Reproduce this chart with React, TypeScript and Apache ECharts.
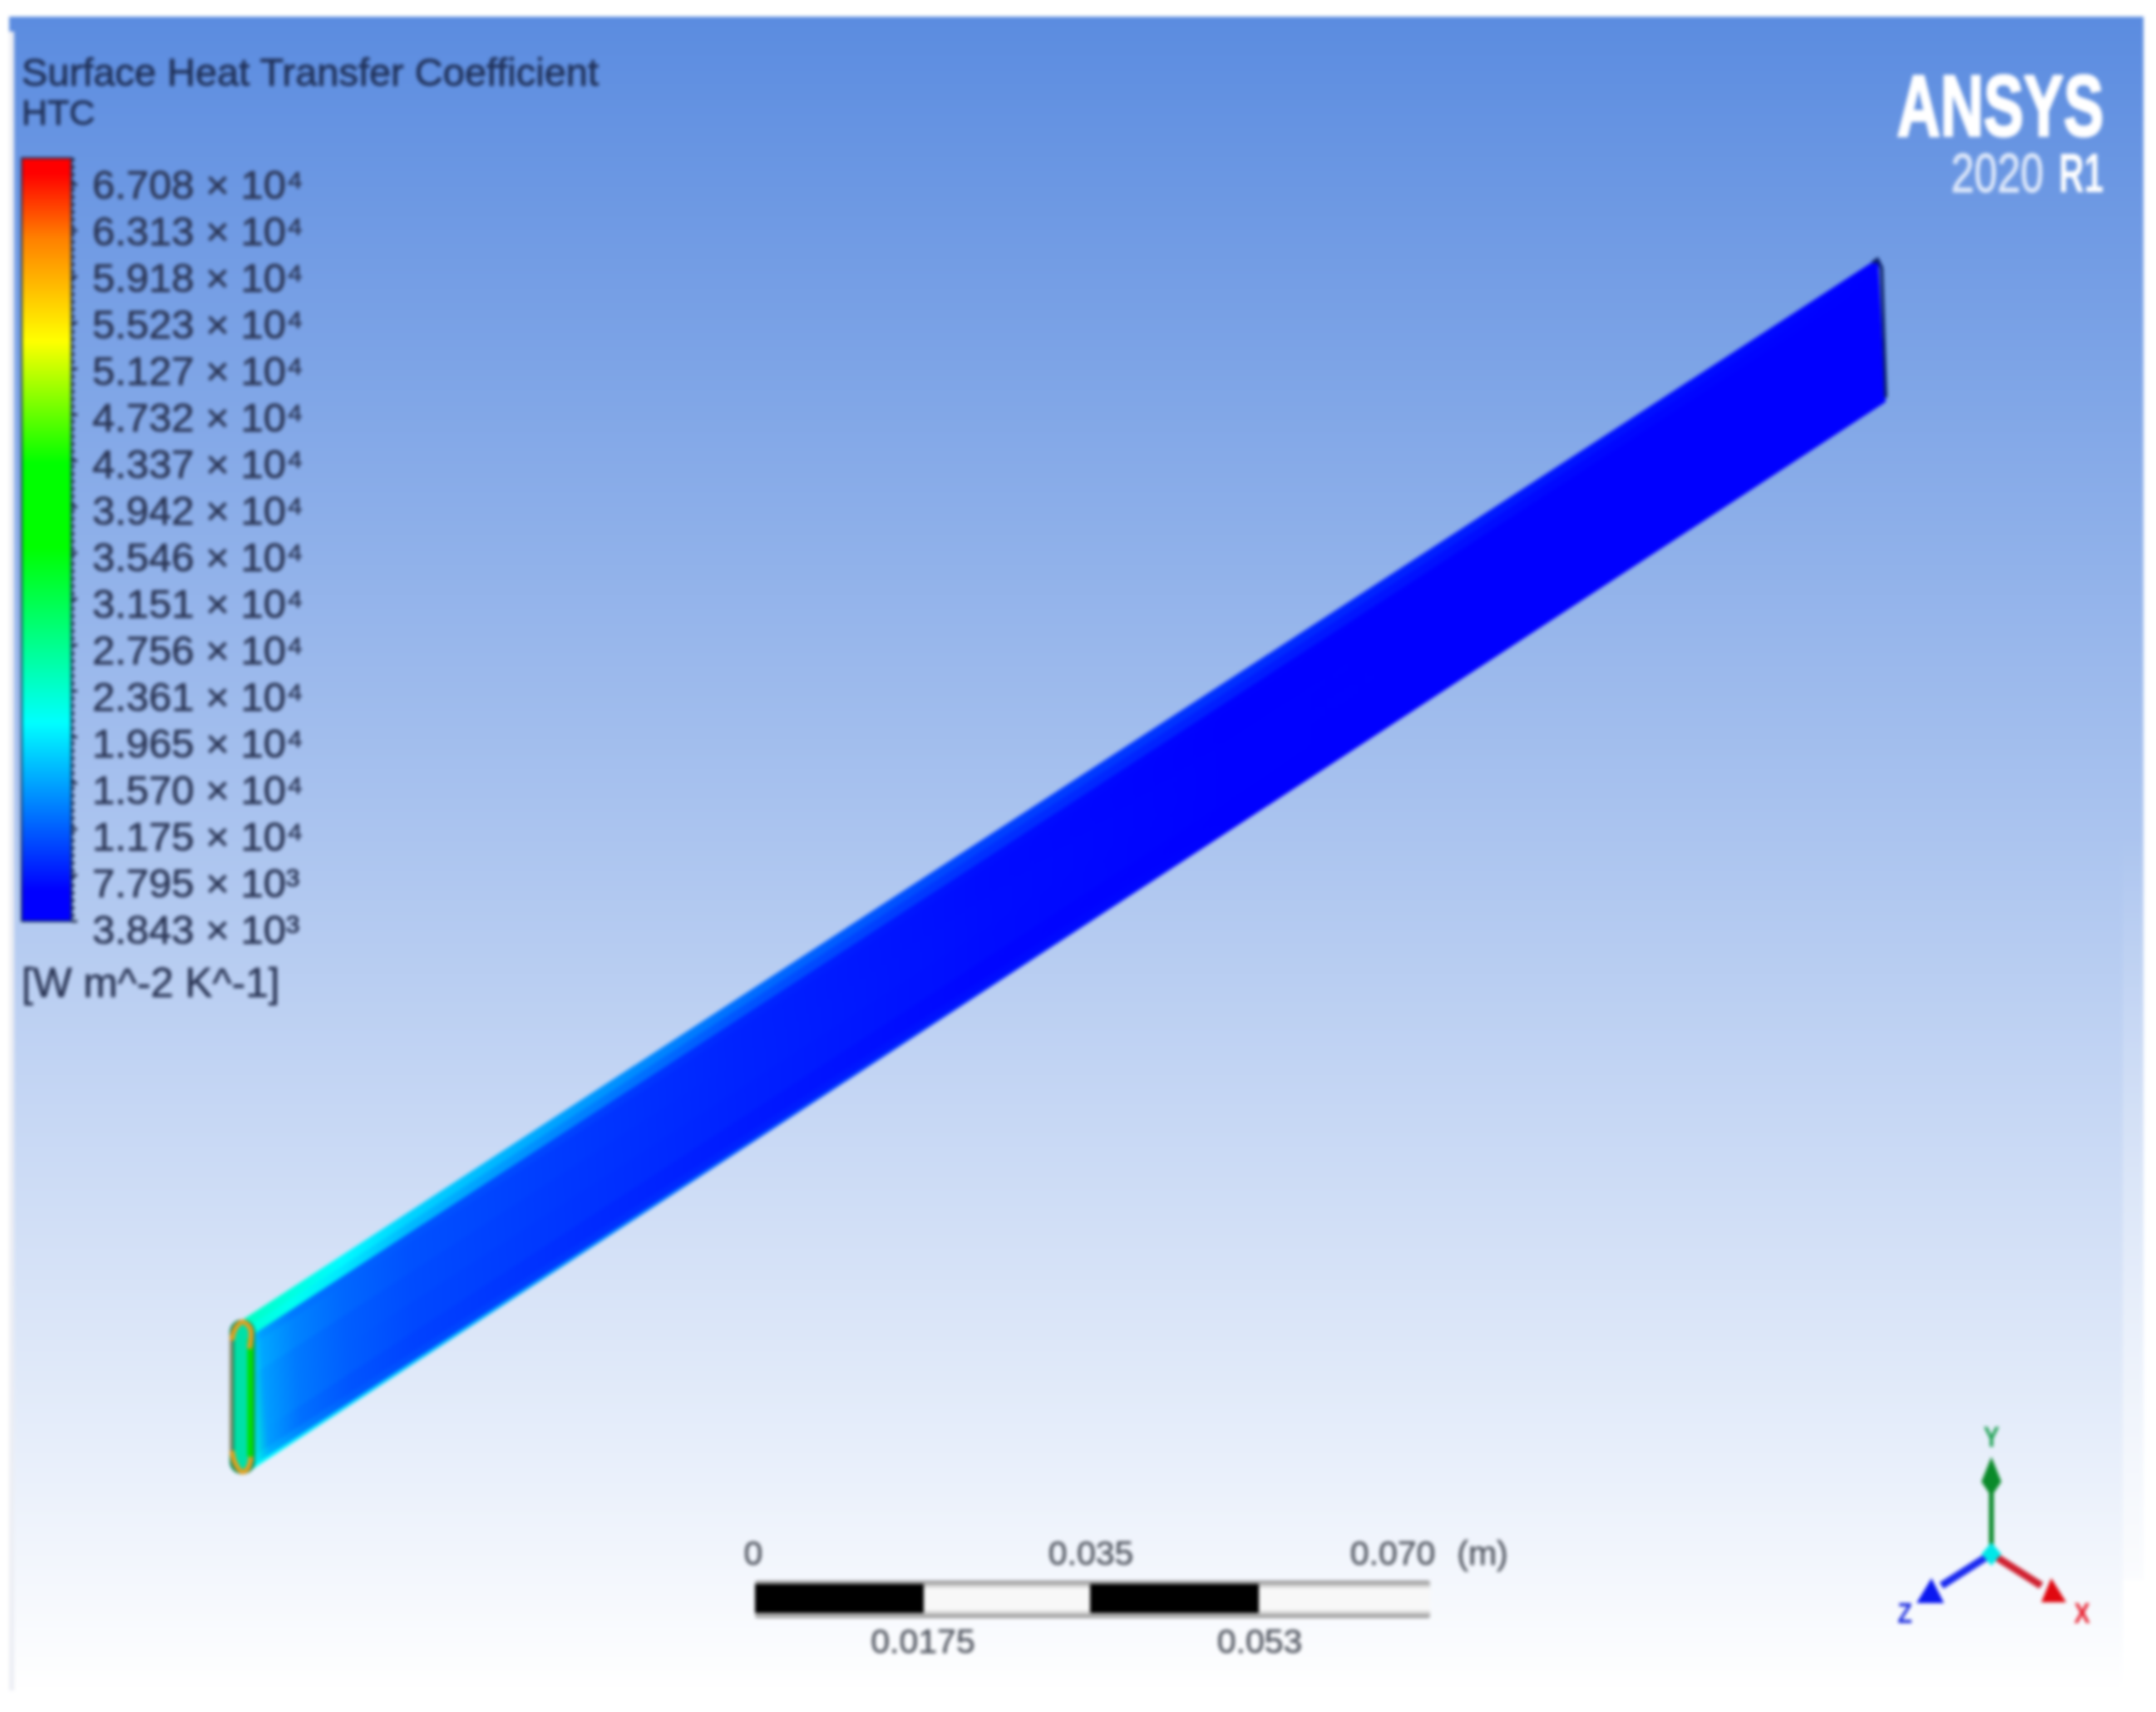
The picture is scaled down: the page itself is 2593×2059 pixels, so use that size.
import React, { useEffect, useRef } from "react";
import * as echarts from "echarts";

const titleLines = ["Surface Heat Transfer Coefficient", "HTC"];
const unitLabel = "[W m^-2 K^-1]";
const legendValues = ["6.708", "6.313", "5.918", "5.523", "5.127", "4.732", "4.337", "3.942", "3.546", "3.151", "2.756", "2.361", "1.965", "1.570", "1.175", "7.795", "3.843"];
const legendExponents = ["⁴", "⁴", "⁴", "⁴", "⁴", "⁴", "⁴", "⁴", "⁴", "⁴", "⁴", "⁴", "⁴", "⁴", "⁴", "³", "³"];
const htcMin = 3843;
const htcMax = 67080;

// colour ramp of the contour legend: position on the ramp (0 = bottom), colour
const rampPositions = [0, 0.04, 0.26, 0.49, 0.6, 0.76, 0.895, 0.98, 1];
const rampColors = ["#0000ff", "#0000ff", "#00ffff", "#00ff00", "#00ff00", "#ffff00", "#ff8000", "#ff0000", "#ff0000"];

const stations = [0, 0.01, 0.03, 0.06, 0.1, 0.2, 0.3, 0.45, 0.6, 0.8, 1];
const rowEdges = [0, 0.07, 0.14, 0.2, 0.4, 0.6, 0.8, 0.93, 0.985, 1];
const rowTopBandOuter = [24000, 23000, 22000, 20000, 18000, 15000, 12500, 10000, 9000, 7500, 5500];
const rowTopBandInner = [22000, 22000, 21000, 19000, 16500, 13500, 11000, 9000, 8000, 6800, 5000];
const rowFold = [21000, 15000, 13000, 12000, 11000, 10000, 8500, 7200, 6400, 5500, 4500];
const rowSideUpper = [23000, 15500, 13500, 12000, 10800, 9500, 8300, 7000, 6200, 5500, 4000];
const rowSideMiddle = [23000, 15000, 13000, 11500, 10500, 9300, 8300, 7100, 6400, 5500, 4000];
const rowSideLower = [23000, 15000, 13000, 11500, 10300, 9200, 8200, 7000, 6400, 5500, 4000];
const rowSideBottom = [23000, 15000, 12500, 11000, 10000, 8800, 7800, 6700, 6000, 5000, 4000];
const rowNearEdge = [22000, 16000, 13500, 11500, 10500, 9200, 8200, 7000, 6000, 5000, 4000];
const rowLowerEdge = [21000, 20000, 19000, 18000, 17000, 14000, 11000, 8000, 6000, 5000, 4000];
const stripRows = [rowTopBandOuter, rowTopBandInner, rowFold, rowSideUpper, rowSideMiddle, rowSideLower, rowSideBottom, rowNearEdge, rowLowerEdge];

const scaleTop = [{ t: "0", x: 906 }, { t: "0.035", x: 1312 }, { t: "0.070", x: 1675 }, { t: "(m)", x: 1783 }];
const scaleBottom = [{ t: "0.0175", x: 1110 }, { t: "0.053", x: 1515 }];

const W = 2593;
const H = 2059;
const FONT = "'Liberation Sans', Arial, sans-serif";

function hexToRgb(h: string) {
  return [parseInt(h.slice(1, 3), 16), parseInt(h.slice(3, 5), 16), parseInt(h.slice(5, 7), 16)];
}
function colorFor(v: number) {
  const f = Math.min(1, Math.max(0, (v - htcMin) / (htcMax - htcMin)));
  for (let i = 1; i < rampPositions.length; i++) {
    if (f <= rampPositions[i]) {
      const k = (f - rampPositions[i - 1]) / (rampPositions[i] - rampPositions[i - 1] || 1);
      const a = hexToRgb(rampColors[i - 1]);
      const b = hexToRgb(rampColors[i]);
      return `rgb(${a.map((c, j) => Math.round(c + (b[j] - c) * k)).join(",")})`;
    }
  }
  return rampColors[rampColors.length - 1];
}

// strip placement on the canvas
const pTop0 = [292, 1588], pTop1 = [2258, 312], pBot0 = [304, 1766], pBot1 = [2267, 483];
function stripPoint(s: number, w: number) {
  const tx = pTop0[0] + (pTop1[0] - pTop0[0]) * s;
  const ty = pTop0[1] + (pTop1[1] - pTop0[1]) * s;
  const bx = pBot0[0] + (pBot1[0] - pBot0[0]) * s;
  const by = pBot0[1] + (pBot1[1] - pBot0[1]) * s;
  return [tx + (bx - tx) * w, ty + (by - ty) * w];
}

function text(t: string, x: number, y: number, fontSize: number, fill: string, extra: any = {}, node: any = {}) {
  const { align = "left", ...rest } = extra;
  return {
    type: "text", x, y, z: 20, ...node,
    style: { text: t, x: 0, y: 0, fontSize, fontFamily: FONT, fill, align, textAlign: align, verticalAlign: "middle", textVerticalAlign: "middle", ...rest },
  };
}

export default function App() {
  const ref = useRef<HTMLDivElement>(null);
  useEffect(() => {
    document.body.style.margin = "0";
    const chart = echarts.init(ref.current!, undefined, { renderer: "svg", width: W, height: H });
    const LG = echarts.graphic.LinearGradient;

    const barStops = rampPositions.map((p, i) => ({ offset: 1 - p, color: rampColors[i] })).reverse();
    const legendX = 111;
    const heavy = (c: string, w: number) => ({ stroke: c, lineWidth: w });
    const graphic: any[] = [
      { type: "rect", z: -11, shape: { x: 11, y: 38, width: 6, height: 1995 }, style: { fill: "#eceef4" } },
      {
        type: "polygon", z: -10,
        shape: { points: [[11, 20], [2578, 20], [2578, 1900], [2553, 1900], [2553, 2034], [17, 2034], [17, 38], [11, 38]] },
        style: { fill: new LG(0, 20, 0, 2034, [{ offset: 0, color: "#5b8ce0" }, { offset: 1, color: "#ffffff" }], true) },
      },
      { type: "rect", z: -9, shape: { x: 2553, y: 1000, width: 25, height: 900 }, style: { fill: new LG(0, 0, 0, 1, [{ offset: 0, color: "rgba(255,255,255,0)" }, { offset: 1, color: "rgba(255,255,255,0.6)" }]) } },
      text(titleLines[0], 26, 86, 47, "#1f3058", heavy("#1f3058", 0.8)),
      text(titleLines[1], 26, 135, 43, "#1f3058", heavy("#1f3058", 0.8)),
      { type: "rect", z: 20, shape: { x: 26, y: 190, width: 60, height: 918 }, style: { fill: new LG(0, 0, 0, 1, barStops), stroke: "#16305a", lineWidth: 2 } },
      { type: "line", z: 20, shape: { x1: 88, y1: 190, x2: 88, y2: 1108 }, style: { stroke: "#1e2a4a", lineWidth: 3, lineDash: [4, 5] } },
      text(unitLabel, 26, 1181, 49.5, "#2a3555", heavy("#2a3555", 0.6)),
      text("ANSYS", 2530, 128, 103, "#ffffff", { align: "right", fontWeight: "bold", ...heavy("#ffffff", 3) }, { scaleX: 0.7 }),
      text("2020", 2458, 208, 66, "#dfe9fa", { align: "right", ...heavy("#dfe9fa", 1) }, { scaleX: 0.76 }),
      text("R1", 2530, 208, 66, "#ffffff", { align: "right", fontWeight: "bold" }, { scaleX: 0.64 }),
      // far end of the strip
      { type: "polyline", z: 10, shape: { points: [[2252, 316], [2258, 312], [2263, 322], [2268, 478]] }, style: { stroke: "#0c2368", lineWidth: 4, fill: "none" } },
      // inlet end face
      { type: "rect", z: 10, shape: { x: 279, y: 1590, width: 25, height: 180, r: 12 }, style: { fill: "#00e0a8", stroke: "#119060", lineWidth: 6 } },
      { type: "line", z: 10, shape: { x1: 301, y1: 1610, x2: 301, y2: 1752 }, style: { stroke: "#00e000", lineWidth: 7 } },
      { type: "line", z: 10, shape: { x1: 278, y1: 1606, x2: 278, y2: 1750 }, style: { stroke: "#b08a70", lineWidth: 3 } },
      { type: "polyline", z: 11, shape: { points: [[279, 1612], [283, 1598], [292, 1590], [300, 1596], [302, 1604], [300, 1622]], smooth: 0.4 }, style: { stroke: "#e2a020", lineWidth: 6, fill: "none" } },
      { type: "polyline", z: 11, shape: { points: [[279, 1745], [283, 1760], [291, 1770], [298, 1766], [302, 1752]], smooth: 0.4 }, style: { stroke: "#e2a020", lineWidth: 6, fill: "none" } },
      // length scale
      { type: "rect", z: 10, shape: { x: 908, y: 1901, width: 812, height: 45, r: 3 }, style: { fill: new LG(0, 0, 0, 1, [{ offset: 0, color: "#8a8a8a" }, { offset: 0.22, color: "#f8f8f8" }, { offset: 0.78, color: "#f8f8f8" }, { offset: 1, color: "#8a8a8a" }]) } },
      { type: "rect", z: 11, shape: { x: 908, y: 1905, width: 203, height: 35 }, style: { fill: "#000000" } },
      { type: "rect", z: 11, shape: { x: 1311, y: 1905, width: 203, height: 35 }, style: { fill: "#000000" } },
      // triad
      { type: "line", z: 10, shape: { x1: 2395, y1: 1870, x2: 2395, y2: 1780 }, style: { stroke: "#0a8a2a", lineWidth: 6 } },
      { type: "polygon", z: 11, shape: { points: [[2395, 1752], [2407, 1782], [2395, 1800], [2383, 1782]] }, style: { fill: "#0a8a2a" } },
      { type: "line", z: 10, shape: { x1: 2390, y1: 1872, x2: 2335, y2: 1907 }, style: { stroke: "#1a2af0", lineWidth: 9 } },
      { type: "polygon", z: 11, shape: { points: [[2323, 1898], [2338, 1928], [2305, 1928]] }, style: { fill: "#0a18f0" } },
      { type: "line", z: 10, shape: { x1: 2400, y1: 1872, x2: 2455, y2: 1907 }, style: { stroke: "#d02030", lineWidth: 9 } },
      { type: "polygon", z: 11, shape: { points: [[2467, 1898], [2485, 1927], [2455, 1927]] }, style: { fill: "#e00810" } },
      { type: "polygon", z: 12, shape: { points: [[2395, 1855], [2407, 1869], [2395, 1883], [2383, 1869]] }, style: { fill: "#00e8e8" } },
      text("Y", 2395, 1727, 36, "#1ba050", { align: "center", fontWeight: "bold" }, { scaleX: 0.8 }),
      text("Z", 2291, 1939, 36, "#2030e0", { align: "center", fontWeight: "bold" }, { scaleX: 0.8 }),
      text("X", 2504, 1939, 36, "#e82030", { align: "center", fontWeight: "bold" }, { scaleX: 0.8 }),
    ];

    legendValues.forEach((v, i) => {
      const y = 222 + (i * (1118 - 222)) / (legendValues.length - 1);
      const tickY = 222 + (i * (1108 - 222)) / (legendValues.length - 1);
      graphic.push(text(`${v} × 10${legendExponents[i]}`, legendX, y, 49, "#2a3555", heavy("#2a3555", 0.7)));
      graphic.push({ type: "line", z: 20, shape: { x1: 86, y1: tickY, x2: 93, y2: tickY }, style: { stroke: "#1e2a4a", lineWidth: 3 } });
    });
    scaleTop.forEach((d) => graphic.push(text(d.t, d.x, 1868, 41, "#50555f", { align: "center", ...heavy("#50555f", 0.5) })));
    scaleBottom.forEach((d) => graphic.push(text(d.t, d.x, 1974, 41, "#50555f", { align: "center", ...heavy("#50555f", 0.5) })));

    // gradient axis perpendicular to the strip's end edges, so that a station's colour lines up across rows
    const ex = pBot0[0] - pTop0[0], ey = pBot0[1] - pTop0[1];
    const el = Math.hypot(ex, ey);
    const nx = ey / el, ny = -ex / el;
    const axisLen = (pTop1[0] - pTop0[0]) * nx + (pTop1[1] - pTop0[1]) * ny;
    const gradEnd = [pTop0[0] + nx * axisLen, pTop0[1] + ny * axisLen];

    const option: any = {
      animation: false,
      grid: { left: 0, right: 0, top: 0, bottom: 0, containLabel: false },
      xAxis: { type: "value", min: 0, max: W, show: false },
      yAxis: { type: "value", min: 0, max: H, inverse: true, show: false },
      graphic,
      series: [
        {
          type: "custom",
          coordinateSystem: "cartesian2d",
          clip: false,
          silent: true,
          z: 2,
          data: stripRows.map((_, i) => [i]),
          renderItem: (_params: any, api: any) => {
            const r = api.value(0);
            const w0 = rowEdges[r];
            const w1 = rowEdges[r + 1];
            const a = api.coord(stripPoint(0, w0));
            const b = api.coord(stripPoint(1, w0));
            const c = api.coord(stripPoint(1, w1));
            const d = api.coord(stripPoint(0, w1));
            const g0 = api.coord(pTop0);
            const g1 = api.coord(gradEnd);
            const stops = stations.map((s, k) => ({ offset: s, color: colorFor(stripRows[r][k]) }));
            const fill = new LG(g0[0], g0[1], g1[0], g1[1], stops, true);
            return { type: "polygon", shape: { points: [a, b, c, d] }, style: { fill, stroke: fill, lineWidth: 1.5 } };
          },
        },
      ],
    };
    chart.setOption(option);
    return () => chart.dispose();
  }, []);
  return <div ref={ref} style={{ position: "absolute", left: 0, top: 0, width: W, height: H, filter: "blur(2px)", background: "#fff" }} />;
}
